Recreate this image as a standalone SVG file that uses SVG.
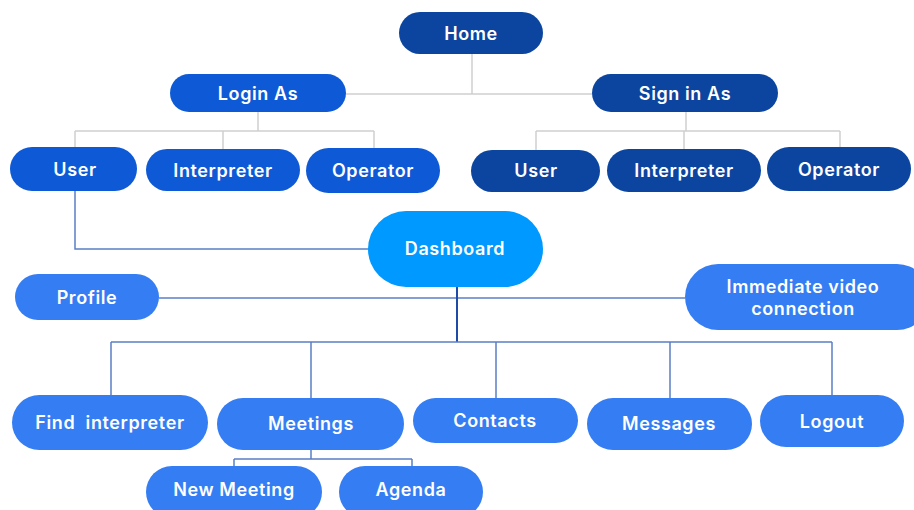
<svg xmlns="http://www.w3.org/2000/svg" width="914" height="510" viewBox="0 0 914 510">
<style>
.dark{fill:#0B45A0}
.mid{fill:#0E5AD6}
.light{fill:#347DF3}
.dash{fill:#0099FF}
text{font-family:Inter,"Open Sans","Liberation Sans",sans-serif;font-weight:600;font-size:18px;letter-spacing:0.6px;fill:#fff;text-anchor:middle;dominant-baseline:central}
.grey{stroke:#cfcfcf;stroke-width:1.5;fill:none}
.blue{stroke:#5b7fc4;stroke-width:1.5;fill:none}
.deep{stroke:#1E4BA8;stroke-width:2;fill:none}
</style>
<rect width="914" height="510" fill="#fff"/>
<g id="connectors">
<path class="grey" d="M472 54V94M346 94H592"/>
<path class="grey" d="M258 112V131M75 131H374M75 131V148M223 131V149M374 131V148"/>
<path class="grey" d="M686 112V131M536 131H840M536 131V150M684 131V149M840 131V147"/>
<path class="blue" d="M75 191V249H368"/>
<path class="blue" d="M159 298H685"/>
<path class="deep" d="M457 287V342"/>
<path class="blue" d="M111 342H832M111 342V395M311 342V398M496 342V398M670 342V398M832 342V395"/>
<path class="blue" d="M311 450V459M234 459H412M234 459V466M412 459V466"/>
</g>
<g id="home"><rect class="dark" x="399" y="12" width="144" height="42" rx="21"/><text x="471" y="33">Home</text></g>
<g id="login-as"><rect class="mid" x="170" y="74" width="176" height="38" rx="19"/><text x="258" y="93">Login As</text></g>
<g id="sign-in-as"><rect class="dark" x="592" y="74" width="186" height="38" rx="19"/><text x="685" y="93">Sign in As</text></g>
<g id="login-user"><rect class="mid" x="10" y="147" width="127" height="44" rx="22"/><text x="75" y="169">User</text></g>
<g id="login-interpreter"><rect class="mid" x="146" y="149" width="154" height="42" rx="21"/><text x="223" y="170">Interpreter</text></g>
<g id="login-operator"><rect class="mid" x="306" y="148" width="134" height="45" rx="22.5"/><text x="373" y="170">Operator</text></g>
<g id="sign-user"><rect class="dark" x="471" y="150" width="129" height="42" rx="21"/><text x="536" y="170">User</text></g>
<g id="sign-interpreter"><rect class="dark" x="607" y="149" width="154" height="43" rx="21.5"/><text x="684" y="170">Interpreter</text></g>
<g id="sign-operator"><rect class="dark" x="767" y="147" width="144" height="44" rx="22"/><text x="839" y="169">Operator</text></g>
<g id="dashboard"><rect class="dash" x="368" y="211" width="175" height="76" rx="38"/><text x="455" y="248">Dashboard</text></g>
<g id="profile"><rect class="light" x="15" y="274" width="144" height="46" rx="23"/><text x="87" y="297">Profile</text></g>
<g id="immediate-video"><rect class="light" x="685" y="264" width="245" height="66" rx="33"/><text x="803" y="286">Immediate video</text><text x="803" y="308">connection</text></g>
<g id="find-interpreter"><rect class="light" x="12" y="395" width="196" height="55" rx="27.5"/><text x="110" y="422" xml:space="preserve">Find  interpreter</text></g>
<g id="meetings"><rect class="light" x="217" y="398" width="187" height="52" rx="26"/><text x="311" y="423">Meetings</text></g>
<g id="contacts"><rect class="light" x="413" y="398" width="165" height="45" rx="22.5"/><text x="495" y="420">Contacts</text></g>
<g id="messages"><rect class="light" x="587" y="398" width="165" height="52" rx="26"/><text x="669" y="423">Messages</text></g>
<g id="logout"><rect class="light" x="760" y="395" width="144" height="52" rx="26"/><text x="832" y="421">Logout</text></g>
<g id="new-meeting"><rect class="light" x="146" y="466" width="176" height="52" rx="26"/><text x="234" y="489">New Meeting</text></g>
<g id="agenda"><rect class="light" x="339" y="466" width="144" height="52" rx="26"/><text x="411" y="489">Agenda</text></g>
</svg>
